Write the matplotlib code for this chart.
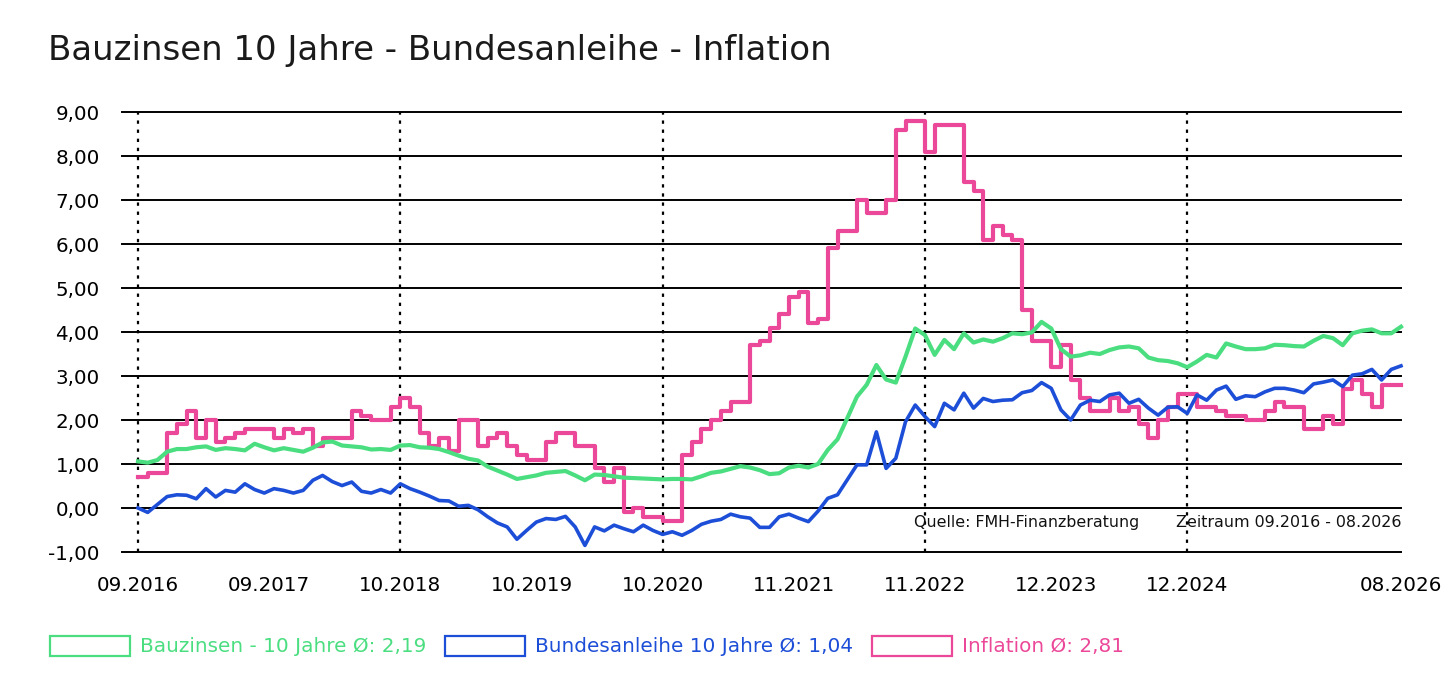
import numpy as np
import matplotlib
matplotlib.use("Agg")
import matplotlib.pyplot as plt
from matplotlib.patches import Rectangle

# weekly series, one sample every 4 weeks (09.2016 .. 08.2026)
weeks = np.arange(0, 521, 4)

bauzinsen = [
    1.06, 1.03, 1.09, 1.28, 1.34, 1.34, 1.38, 1.40, 1.32, 1.36,
    1.34, 1.31, 1.46, 1.38, 1.31, 1.36, 1.32, 1.28, 1.37, 1.49,
    1.51, 1.42, 1.40, 1.38, 1.33, 1.34, 1.32, 1.42, 1.43, 1.38,
    1.37,
    1.34, 1.27, 1.19, 1.12, 1.08, 0.94, 0.85, 0.76, 0.66, 0.70,
    0.74, 0.80, 0.82, 0.84, 0.74, 0.63, 0.76, 0.75, 0.72, 0.69,
    0.68, 0.67, 0.66, 0.65, 0.66, 0.66, 0.65,
    0.72, 0.80, 0.83,
    0.89, 0.95, 0.92, 0.86, 0.77, 0.79, 0.92, 0.96, 0.92, 1.00,
    1.32, 1.56, 2.04, 2.53, 2.80, 3.25, 2.92, 2.85, 3.44, 4.08,
    3.93, 3.48, 3.82, 3.61, 3.97, 3.76, 3.83, 3.78, 3.86,
    3.97, 3.95, 3.99, 4.23, 4.08, 3.61, 3.44, 3.47, 3.53, 3.50,
    3.59, 3.65, 3.67, 3.63, 3.42, 3.36, 3.34, 3.29, 3.20, 3.33,
    3.48, 3.42, 3.74, 3.67, 3.61, 3.61, 3.63, 3.71, 3.70, 3.68,
    3.67, 3.80, 3.91, 3.86, 3.70, 3.97, 4.03, 4.06, 3.97, 3.97,
    4.12,
]

bundesanleihe = [
    0.00, -0.10, 0.08, 0.26, 0.30, 0.29, 0.21, 0.44, 0.25, 0.40,
    0.36, 0.55, 0.42, 0.34, 0.44, 0.40, 0.34, 0.40, 0.63, 0.74,
    0.60, 0.51, 0.59, 0.38, 0.34, 0.42, 0.34, 0.55, 0.44, 0.36,
    0.27,
    0.17, 0.16, 0.04, 0.06, -0.04, -0.20, -0.34, -0.43, -0.71, -0.51,
    -0.32, -0.24, -0.26, -0.19, -0.43, -0.85, -0.43, -0.52, -0.39, -0.47,
    -0.54, -0.39, -0.51, -0.60, -0.54, -0.62, -0.51,
    -0.37, -0.30, -0.26,
    -0.14, -0.20, -0.23, -0.44, -0.44, -0.20, -0.14, -0.23, -0.31, -0.07,
    0.22, 0.30, 0.64, 0.98, 0.98, 1.73, 0.90, 1.13, 1.96, 2.34,
    2.08, 1.85, 2.38, 2.23, 2.61, 2.27, 2.49, 2.42, 2.45,
    2.46, 2.62, 2.67, 2.85, 2.72, 2.23, 2.00, 2.34, 2.45, 2.42,
    2.57, 2.61, 2.38, 2.47, 2.27, 2.11, 2.29, 2.30, 2.15, 2.57,
    2.45, 2.68, 2.77, 2.47, 2.55, 2.53, 2.64, 2.72, 2.72, 2.68,
    2.62, 2.82, 2.86, 2.91, 2.76, 3.02, 3.05, 3.15, 2.91, 3.15,
    3.23,
]

inflation = [
    0.7, 0.8, 0.8, 1.7, 1.9, 2.2, 1.6, 2.0, 1.5, 1.6,
    1.7, 1.8, 1.8, 1.8, 1.6, 1.8, 1.7, 1.8, 1.4, 1.6,
    1.6, 1.6, 2.2, 2.1, 2.0, 2.0, 2.3, 2.5, 2.3, 1.7,
    1.4, 1.6, 1.3, 2.0, 2.0, 1.4, 1.6, 1.7, 1.4, 1.2,
    1.1, 1.1, 1.5, 1.7, 1.7, 1.4, 1.4, 0.9, 0.6, 0.9,
    -0.1, 0.0, -0.2, -0.2, -0.3, -0.3, 1.2, 1.5, 1.8, 2.0,
    2.2,
    2.4, 2.4, 3.7, 3.8, 4.1, 4.4, 4.8, 4.9, 4.2, 4.3,
    5.9, 6.3, 6.3, 7.0, 6.7, 6.7, 7.0, 8.6, 8.8, 8.8,
    8.1, 8.7, 8.7, 8.7, 7.4, 7.2, 6.1, 6.4, 6.2,
    6.1, 4.5, 3.8, 3.8, 3.2, 3.7, 2.9, 2.5, 2.2, 2.2,
    2.5, 2.2, 2.3, 1.9, 1.6, 2.0, 2.3, 2.6, 2.6, 2.3,
    2.3, 2.2, 2.1, 2.1, 2.0, 2.0, 2.2, 2.4, 2.3, 2.3,
    1.8, 1.8, 2.1, 1.9, 2.7, 2.9, 2.6, 2.3, 2.8, 2.8,
    2.8,
]

tick_weeks = [0, 54, 108, 162, 216, 270, 324, 378, 432, 520]
tick_labels = ["09.2016", "09.2017", "10.2018", "10.2019", "10.2020",
               "11.2021", "11.2022", "12.2023", "12.2024", "08.2026"]
dotted_weeks = [0, 108, 216, 324, 432]
y_ticks = list(range(-1, 10))

series_names = ["Bauzinsen - 10 Jahre Ø: 2,19", "Bundesanleihe 10 Jahre Ø: 1,04", "Inflation Ø: 2,81"]
GREEN, BLUE, PINK = "#4ade80", "#1d4ed8", "#ec4899"

W, H = 1450, 696
fig = plt.figure(figsize=(W / 100, H / 100), dpi=100)
ax = fig.add_axes([122 / W, 1 - 552 / H, 1279 / W, 440 / H])

for sp in ax.spines.values():
    sp.set_visible(False)

for y in y_ticks:
    ax.axhline(y, color="black", lw=1.4, zorder=1, clip_on=False)
for xw in dotted_weeks:
    ax.axvline(xw, color="black", lw=1.6, linestyle=(0, (1.5, 2.6)), zorder=1.5, clip_on=False)

ax.plot(weeks, inflation, color=PINK, lw=3.0, drawstyle="steps-post", zorder=2, clip_on=False)
ax.plot(weeks, bauzinsen, color=GREEN, lw=3.0, zorder=3, clip_on=False)
ax.plot(weeks, bundesanleihe, color=BLUE, lw=2.6, zorder=4, clip_on=False)

ax.set_xlim(-16 / 2.4288, 520)
ax.set_ylim(-1, 9)
ax.set_yticks(y_ticks)
ax.set_yticklabels([f"{v:.2f}".replace(".", ",") for v in y_ticks])
ax.set_xticks(tick_weeks)
ax.set_xticklabels(tick_labels)
ax.tick_params(axis="both", length=0, labelsize=14.3, colors="black")
ax.tick_params(axis="y", pad=16)
ax.tick_params(axis="x", pad=17)

ax.text(0.707, 0.068, "Quelle: FMH-Finanzberatung", transform=ax.transAxes,
        ha="center", va="center", fontsize=11.4, color="#111111")
ax.text(1.0, 0.068, "Zeitraum 09.2016 - 08.2026", transform=ax.transAxes,
        ha="right", va="center", fontsize=11.4, color="#111111")

fig.text(48 / W, 1 - 60 / H, "Bauzinsen 10 Jahre - Bundesanleihe - Inflation",
         fontsize=24.5, color="#1a1a1a", va="baseline", ha="left")

# legend boxes
for x0, tx, col, name in zip([50, 445, 872], [140, 535, 962], [GREEN, BLUE, PINK], series_names):
    fig.add_artist(Rectangle((x0 / W, 1 - 656 / H), 80 / W, 20 / H, transform=fig.transFigure,
                             fill=False, edgecolor=col, lw=1.6))
    fig.text(tx / W, 1 - 646 / H, name, color=col, fontsize=14.4, va="center", ha="left")

fig.savefig("out.png", dpi=100)
